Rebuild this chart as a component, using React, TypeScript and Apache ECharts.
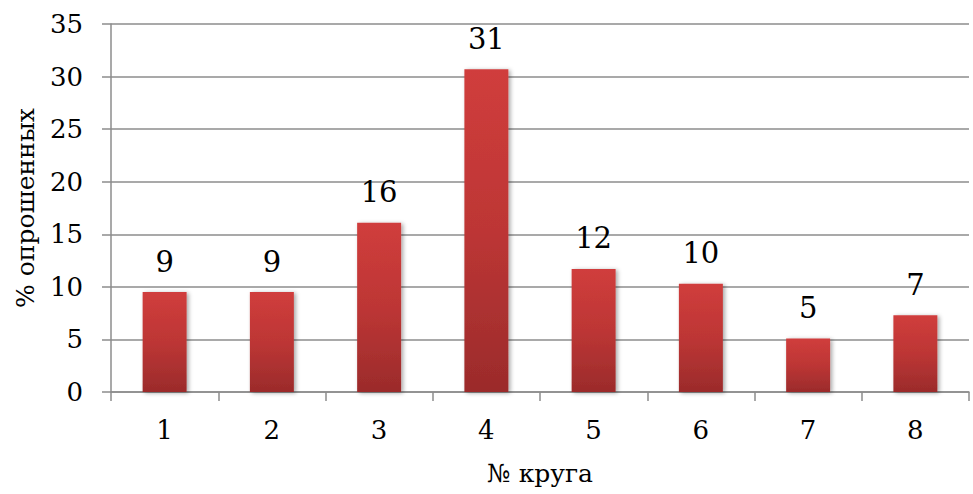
import React, { useEffect, useRef } from "react";
import * as echarts from "echarts";

const categories = ["1", "2", "3", "4", "5", "6", "7", "8"];
const values = [9.5, 9.5, 16.1, 30.7, 11.7, 10.3, 5.1, 7.3];
const valueLabels = ["9", "9", "16", "31", "12", "10", "5", "7"];
const yTicks = [0, 5, 10, 15, 20, 25, 30, 35];
const xTitle = "№ круга";
const yTitle = "% опрошенных";

const FONT = "DejaVu Serif";

export default function App() {
  const ref = useRef<HTMLDivElement>(null);
  useEffect(() => {
    if (!ref.current) return;
    document.body.style.margin = "0";
    document.body.style.overflow = "hidden";
    const chart = echarts.init(ref.current, null, { renderer: "svg", width: 973, height: 494 });
    chart.setOption({
      animation: false,
      backgroundColor: "#ffffff",
      textStyle: { fontFamily: FONT },
      grid: {
        left: 111,
        right: 4,
        top: 24,
        bottom: 102,
        containLabel: false,
        outerBoundsMode: "none",
      },
      xAxis: {
        type: "category",
        data: categories,
        name: xTitle,
        nameLocation: "middle",
        nameGap: 69,
        nameTextStyle: { fontFamily: FONT, fontSize: 25, color: "#000" },
        axisLine: { lineStyle: { color: "#8c8c8c", width: 1.5 } },
        axisTick: { show: true, alignWithLabel: false, length: 9, lineStyle: { color: "#8c8c8c", width: 1.5 } },
        axisLabel: { fontFamily: FONT, fontSize: 26, color: "#000", margin: 25 },
      },
      yAxis: {
        type: "value",
        min: yTicks[0],
        max: yTicks[yTicks.length - 1],
        interval: 5,
        name: yTitle,
        nameLocation: "middle",
        nameGap: 73,
        nameRotate: 90,
        nameTextStyle: { fontFamily: FONT, fontSize: 25, color: "#000" },
        axisLine: { show: true, lineStyle: { color: "#8c8c8c", width: 1.5 } },
        axisTick: { show: true, length: 9, lineStyle: { color: "#8c8c8c", width: 1.5 } },
        axisLabel: { fontFamily: FONT, fontSize: 26, color: "#000", margin: 28 },
        splitLine: { show: true, lineStyle: { color: "#8c8c8c", width: 1.5 } },
      },
      series: [
        {
          type: "bar",
          data: values,
          barWidth: "41%",
          itemStyle: {
            color: new echarts.graphic.LinearGradient(0, 0, 0, 1, [
              { offset: 0, color: "#d03d3c" },
              { offset: 0.5, color: "#bd3635" },
              { offset: 1, color: "#9b2b2b" },
            ]),
            shadowBlur: 4,
            shadowColor: "rgba(0,0,0,0.35)",
            shadowOffsetX: 2,
            shadowOffsetY: 1,
          },
          label: {
            show: true,
            position: "top",
            distance: 16,
            fontFamily: FONT,
            fontSize: 29,
            color: "#000",
            formatter: (p: any) => valueLabels[p.dataIndex],
          },
        },
      ],
    });
    return () => chart.dispose();
  }, []);
  return (
    <div
      ref={ref}
      style={{ position: "fixed", left: 0, top: 0, width: 973, height: 494 }}
    />
  );
}
